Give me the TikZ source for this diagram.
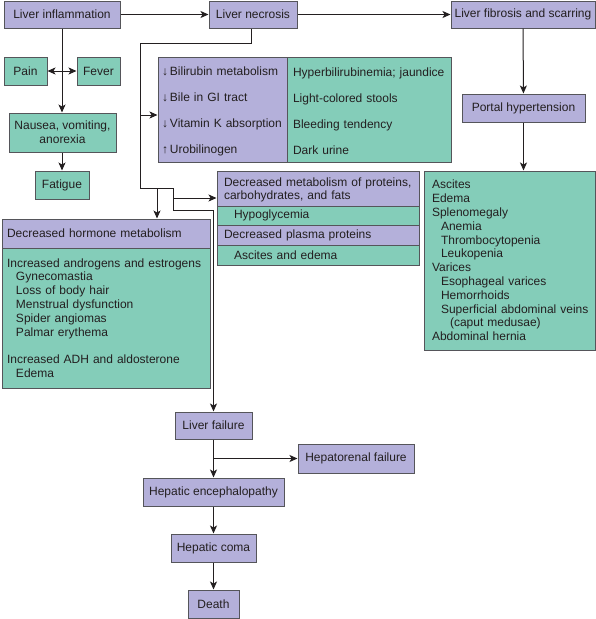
\documentclass[tikz,border=0pt]{standalone}
\usepackage{fontspec}
\setmainfont{Liberation Sans}
\usetikzlibrary{arrows.meta}
\definecolor{pur}{RGB}{180,176,218}
\definecolor{grn}{RGB}{132,205,185}
\definecolor{edgec}{RGB}{85,85,90}
\definecolor{ink}{RGB}{35,31,32}
\begin{document}
\begin{tikzpicture}[x=1pt,y=-1pt,
  font=\fontsize{12}{13.8}\selectfont,
  bx/.style={draw=edgec, line width=1pt, text=ink, inner sep=0pt},
  pbox/.style={bx, fill=pur},
  gbox/.style={bx, fill=grn},
  tip/.tip={Stealth[length=8pt,width=7pt,inset=2pt]},
  line/.style={draw=ink, line width=1pt},
  conn/.style={line, -tip}]
\useasboundingbox (0,0) rectangle (596,619);

% top row
\node[pbox, minimum width=116pt, minimum height=27pt] (inf) at (62,14.5) {Liver inflammation};
\node[pbox, minimum width=88pt, minimum height=27pt] (nec) at (253,14.5) {Liver necrosis};
\node[pbox, minimum width=144pt, minimum height=27pt] (fib) at (523,14.5) {Liver fibrosis and scarring};

% left column
\node[gbox, minimum width=43pt, minimum height=28pt] (pain) at (25.5,71) {Pain};
\node[gbox, minimum width=43pt, minimum height=28pt] (fever) at (98.5,71) {Fever};
\node[gbox, minimum width=107pt, minimum height=39pt, align=center] (naus) at (62.5,132.5) {Nausea, vomiting,\\anorexia};
\node[gbox, minimum width=54pt, minimum height=28pt] (fat) at (62,185) {Fatigue};

% bilirubin box
\node[pbox, minimum width=129pt, minimum height=105pt, text width=121pt, align=left,
      font=\fontsize{12}{26}\selectfont] (bilL) at (222.5,109.5)
  {\rule{0pt}{13pt}↓\,Bilirubin metabolism\\↓\,Bile in GI tract\\↓\,Vitamin K absorption\\↑\,Urobilinogen};
\node[gbox, minimum width=164pt, minimum height=105pt, text width=152pt, align=left,
      font=\fontsize{12}{26}\selectfont] (bilR) at (369,109.5)
  {\rule{0pt}{13pt}Hyperbilirubinemia; jaundice\\Light-colored stools\\Bleeding tendency\\Dark urine};

% portal hypertension branch
\node[pbox, minimum width=123pt, minimum height=28pt] (portal) at (523.5,108) {Portal hypertension};
\node[gbox, minimum width=171pt, minimum height=179pt, text width=155pt, align=left] (rb) at (509.5,260.5)
  {Ascites\\Edema\\Splenomegaly\\
   \hspace*{9pt}Anemia\\\hspace*{9pt}Thrombocytopenia\\\hspace*{9pt}Leukopenia\\
   Varices\\\hspace*{9pt}Esophageal varices\\\hspace*{9pt}Hemorrhoids\\
   \hspace*{9pt}\mbox{Superficial abdominal veins}\\\hspace*{18pt}(caput medusae)\\
   Abdominal hernia};

% metabolism group
\node[pbox, minimum width=202pt, minimum height=35pt, text width=188pt, align=left,
      font=\fontsize{12}{12.6}\selectfont] (dm1) at (318,188.5)
  {\rule{0pt}{12pt}Decreased metabolism of proteins,\\carbohydrates, and fats};
\node[gbox, minimum width=202pt, minimum height=19pt, text width=188pt, align=left] (dm2) at (318,215.5)
  {\hspace*{10pt}Hypoglycemia};
\node[pbox, minimum width=202pt, minimum height=20pt, text width=188pt, align=left] (dm3) at (318,235)
  {Decreased plasma proteins};
\node[gbox, minimum width=202pt, minimum height=20pt, text width=188pt, align=left] (dm4) at (318,255)
  {\hspace*{10pt}Ascites and edema};

% hormone box
\node[pbox, minimum width=208pt, minimum height=29pt, text width=198pt, align=left] (hh) at (106,233.5)
  {Decreased hormone metabolism};
\node[gbox, minimum width=208pt, minimum height=140pt, text width=198pt, align=left] (hb) at (106,318)
  {Increased androgens and estrogens\\
   \hspace*{9pt}Gynecomastia\\\hspace*{9pt}Loss of body hair\\\hspace*{9pt}Menstrual dysfunction\\
   \hspace*{9pt}Spider angiomas\\\hspace*{9pt}Palmar erythema\\[13.8pt]
   Increased ADH and aldosterone\\\hspace*{9pt}Edema};

% failure chain
\node[pbox, minimum width=77pt, minimum height=27pt] (lf) at (213.5,425.5) {Liver failure};
\node[pbox, minimum width=116pt, minimum height=29pt] (hr) at (356,458.5) {Hepatorenal failure};
\node[pbox, minimum width=141pt, minimum height=28pt] (he) at (213.5,492) {Hepatic encephalopathy};
\node[pbox, minimum width=85pt, minimum height=28pt] (hc) at (213.5,548) {Hepatic coma};
\node[pbox, minimum width=51pt, minimum height=28pt] (death) at (213.5,604) {Death};

% connectors
\draw[conn] (inf) -- (nec);
\draw[conn] (nec) -- (fib);
\draw[conn] (inf.south) -- (inf.south |- naus.north);
\draw[line, tip-tip] (pain) -- (fever);
\draw[conn] (naus.south -| fat.north) -- (fat.north);
\draw[conn] (fib) -- (portal);
\draw[conn] (portal.south) -- (portal.south |- rb.north);

\coordinate (j1) at (140,43);
\coordinate (j2) at (140,188);
\coordinate (j3) at (173,188);
\coordinate (j4) at (173,210);
\draw[conn] ([xshift=-2pt]nec.south) |- (j1) -- (j2) -- (j3) -- (j4) -| (lf.north);
\coordinate (b1) at (140,115);
\draw[conn] (b1) -- (b1 -| bilL.west);
\coordinate (h1) at (157,188);
\draw[conn] (h1) -- (h1 |- hh.north);
\coordinate (d1) at (173,198);
\draw[conn] (d1) -- (d1 -| dm1.west);

\draw[conn] (lf) -- (he);
\draw[conn] (lf.south |- hr.west) -- (hr.west);
\draw[conn] (he) -- (hc);
\draw[conn] (hc) -- (death);
\end{tikzpicture}
\end{document}
